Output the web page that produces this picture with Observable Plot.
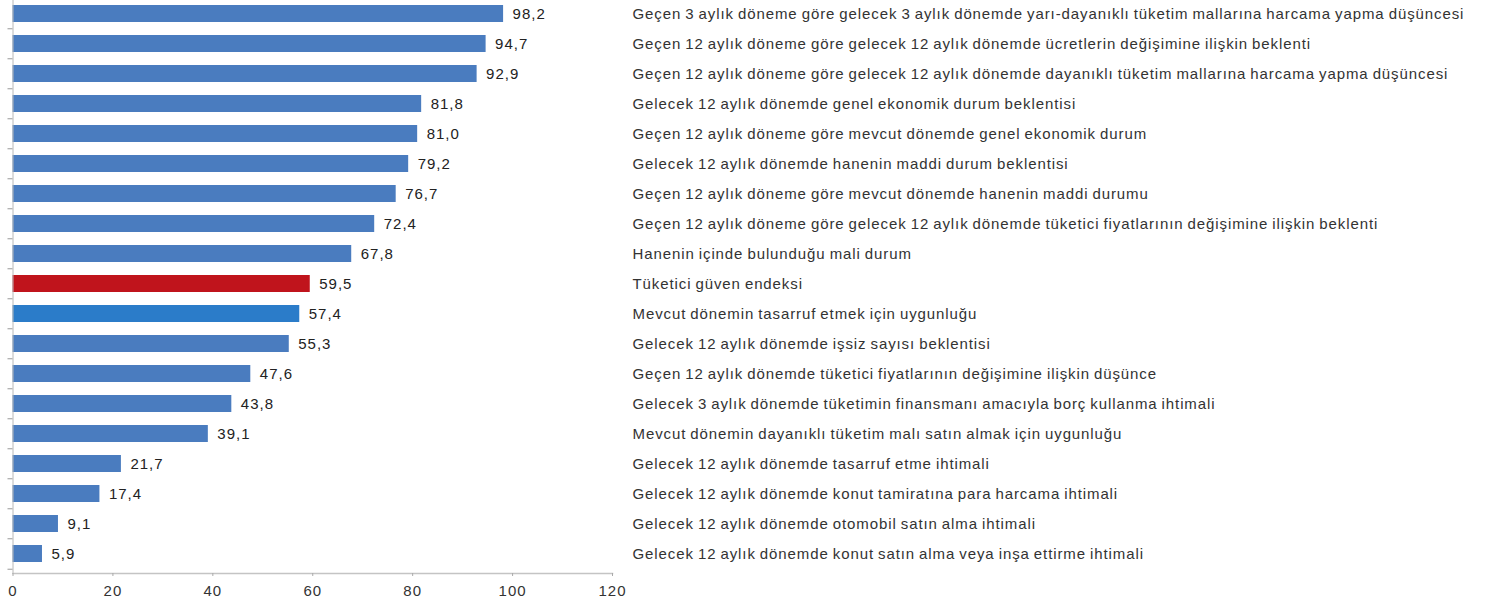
<!DOCTYPE html>
<html>
<head>
<meta charset="utf-8">
<script src="https://cdn.jsdelivr.net/npm/d3@7"></script>
<script src="https://cdn.jsdelivr.net/npm/@observablehq/plot@0.6"></script>
<style>
  html, body { margin: 0; padding: 0; background: #ffffff; }
  #chart svg text { letter-spacing: 1px; }
  #chart svg g.cat-labels text { letter-spacing: 0.9px; word-spacing: -1px; }
</style>
</head>
<body>
<div id="chart"></div>
<script>
const labels = [
  "Geçen 3 aylık döneme göre gelecek 3 aylık dönemde yarı-dayanıklı tüketim mallarına harcama yapma düşüncesi",
  "Geçen 12 aylık döneme göre gelecek 12 aylık dönemde ücretlerin değişimine ilişkin beklenti",
  "Geçen 12 aylık döneme göre gelecek 12 aylık dönemde dayanıklı tüketim mallarına harcama yapma düşüncesi",
  "Gelecek 12 aylık dönemde genel ekonomik durum beklentisi",
  "Geçen 12 aylık döneme göre mevcut dönemde genel ekonomik durum",
  "Gelecek 12 aylık dönemde hanenin maddi durum beklentisi",
  "Geçen 12 aylık döneme göre mevcut dönemde hanenin maddi durumu",
  "Geçen 12 aylık döneme göre gelecek 12 aylık dönemde tüketici fiyatlarının değişimine ilişkin beklenti",
  "Hanenin içinde bulunduğu mali durum",
  "Tüketici güven endeksi",
  "Mevcut dönemin tasarruf etmek için uygunluğu",
  "Gelecek 12 aylık dönemde işsiz sayısı beklentisi",
  "Geçen 12 aylık dönemde tüketici fiyatlarının değişimine ilişkin düşünce",
  "Gelecek 3 aylık dönemde tüketimin finansmanı amacıyla borç kullanma ihtimali",
  "Mevcut dönemin dayanıklı tüketim malı satın almak için uygunluğu",
  "Gelecek 12 aylık dönemde tasarruf etme ihtimali",
  "Gelecek 12 aylık dönemde konut tamiratına para harcama ihtimali",
  "Gelecek 12 aylık dönemde otomobil satın alma ihtimali",
  "Gelecek 12 aylık dönemde konut satın alma veya inşa ettirme ihtimali"
];
const values = [98.2, 94.7, 92.9, 81.8, 81.0, 79.2, 76.7, 72.4, 67.8, 59.5, 57.4, 55.3, 47.6, 43.8, 39.1, 21.7, 17.4, 9.1, 5.9];
const xTicks = [0, 20, 40, 60, 80, 100, 120];
const indexLabel = "Tüketici güven endeksi";
const savingLabel = "Mevcut dönemin tasarruf etmek için uygunluğu";

const data = labels.map((label, i) => ({label, value: values[i]}));
const fmt = v => v.toFixed(1).replace(".", ",");
const fillOf = d => d.label === indexLabel ? "#c0141c" : d.label === savingLabel ? "#2b7cc9" : "#4a7cbf";

const W = 1485, H = 606;
const marginLeft = 12.5, marginRight = W - 612, marginBottom = 33;
const yTop = -5.7, yBottom = H - marginBottom + 0.2;
const step = (yBottom - yTop) / labels.length;

const chart = Plot.plot({
  width: W,
  height: H,
  marginLeft, marginRight, marginTop: 0, marginBottom,
  style: {fontFamily: "'Liberation Sans', Arial, sans-serif", fontSize: "15px", color: "#333", background: "#ffffff"},
  x: {domain: [0, 120], ticks: xTicks, label: null},
  y: {domain: labels, range: [yTop, yBottom], paddingInner: 0.44, paddingOuter: 0.22, axis: null},
  marks: [
    Plot.barX(data, {y: "label", x: "value", fill: fillOf}),
    Plot.frame({anchor: "left", stroke: "#b8b8b8"}),
    Plot.frame({anchor: "bottom", stroke: "#c4c4c4", strokeWidth: 1.5}),
    Plot.ruleY(data, {y: "label", x1: -1, x2: 0, dy: -step / 2, stroke: "#999"}),
    Plot.ruleY(data.slice(-1), {y: "label", x1: -1, x2: 0, dy: step / 2, stroke: "#999"}),
    Plot.axisX({ticks: xTicks, tickSize: 3, tickPadding: 9, stroke: "#aaa", fill: "#333", tickFormat: d => String(d), label: null}),
    Plot.text(data, {x: "value", y: "label", text: d => fmt(d.value), textAnchor: "start", dx: 9, fill: "#222",
      fontWeight: d => d.label === indexLabel ? "bold" : "normal"}),
    Plot.text(data, {y: "label", text: "label", frameAnchor: "right", textAnchor: "start", dx: 20, fill: "#333", className: "cat-labels"})
  ]
});
document.getElementById("chart").appendChild(chart);
</script>
</body>
</html>
